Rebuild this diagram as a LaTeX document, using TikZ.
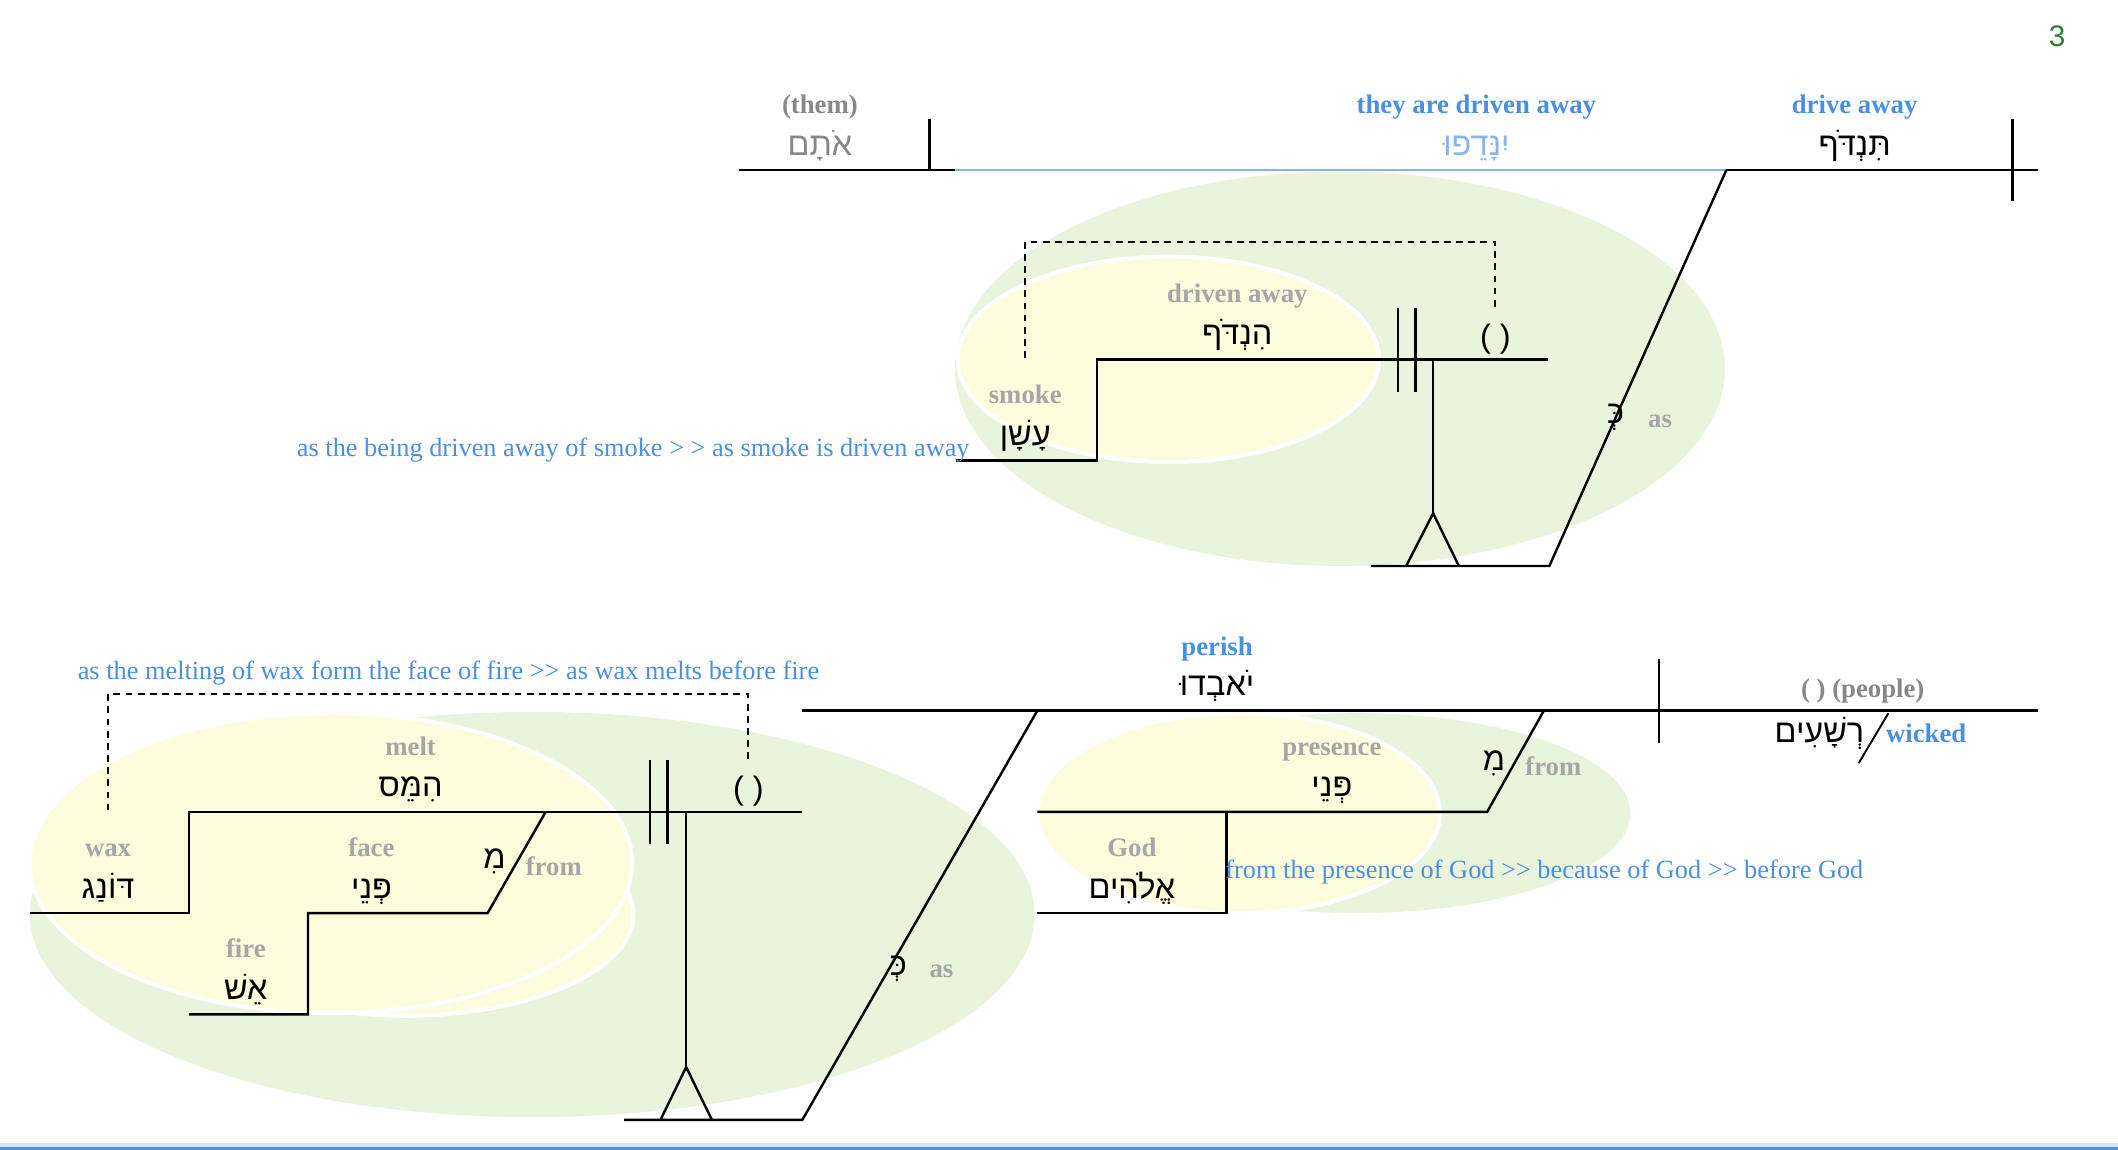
\documentclass[tikz,border=0pt]{standalone}
\usepackage{fontspec}
\setmainfont{Liberation Serif}
\newfontfamily\hebf[Script=Hebrew]{Liberation Sans}
\newfontfamily\sansf{Liberation Sans}
\TeXXeTstate=1
\definecolor{grnfill}{RGB}{233,244,220}
\definecolor{yelfill}{RGB}{253,253,222}
\definecolor{bluetx}{RGB}{74,144,226}
\definecolor{lightbl}{RGB}{138,180,240}
\definecolor{graylb}{RGB}{166,166,166}
\definecolor{darkgr}{RGB}{136,136,136}
\definecolor{pagenum}{RGB}{46,125,50}
\definecolor{bandbl}{RGB}{213,229,249}
\begin{document}
\begin{tikzpicture}[x=1pt,y=-1pt,
  lbl/.style={font=\fontsize{19.8}{23}\selectfont\bfseries, text=graylb, anchor=base, inner sep=0pt},
  blbl/.style={lbl, text=bluetx},
  hw/.style={font=\fontsize{24}{28}\selectfont\hebf, anchor=base, inner sep=0pt},
  cmt/.style={font=\fontsize{19.5}{23}\selectfont, text=bluetx, anchor=base, inner sep=0pt},
  ln/.style={line width=1.8pt, black},
  dsh/.style={line width=1.4pt, dash pattern=on 5pt off 4pt},
  grnell/.style={fill=grnfill},
  yelell/.style={fill=yelfill, draw=white, line width=3pt}]
\useasboundingbox (0,0) rectangle (1568,851);

% ---------- background ellipses ----------
\fill[grnell] (992,273) ellipse [x radius=285pt, y radius=146pt];
\path[yelell] (865,266) ellipse [x radius=156pt, y radius=76pt];

\fill[grnell] (394,677) ellipse [x radius=372pt, y radius=150pt];
\path[yelell] (300,677) ellipse [x radius=169pt, y radius=75pt];
\path[yelell] (245,639) ellipse [x radius=223pt, y radius=111pt];

\fill[grnell] (1004,602) ellipse [x radius=203pt, y radius=74pt];
\path[yelell] (917,602) ellipse [x radius=149pt, y radius=74pt];

% ---------- page number and bottom band ----------
\node[font=\fontsize{22}{25}\selectfont\sansf, text=pagenum, inner sep=0pt] (pg) at (1523,27) {3};
\fill[bandbl] (0,846) rectangle (1568,849);
\fill[bluetx] (0,849) rectangle (1568,851);

% ---------- top main clause ----------
\draw[ln] (547,126) -- (707,126);
\draw[line width=1.8pt, lightbl] (707,126) -- (1278,126);
\draw[ln] (1278,126) -- (1509,126);
\draw[ln] (688,88) -- (688,126);
\draw[ln] (1490,88) -- (1490,149);

\node[lbl, text=darkgr] (them) at (607,84) {(them)};
\node[hw, text=darkgr] (otam) at (607,115) {\beginR אֹתָם\endR};
\node[blbl] (driven) at (1093,84) {they are driven away};
\node[hw, text=lightbl] (yinnadfu) at (1093,115) {\beginR יִנָּדֵפוּ\endR};
\node[blbl] (drive) at (1373,84) {drive away};
\node[hw] (tindof) at (1373,115) {\beginR תִּנְדֹּף\endR};

% slanted 'as' connector
\draw[ln] (1278,126) -- (1147,419) -- (1015,419);
\node[hw, anchor=center] (ke1) at (1196,309) {\beginR כְּ\endR};
\node[lbl, anchor=center] (as1) at (1229,312) {as};

% smoke clause
\draw[ln] (708,341) -- (812,341) -- (812,266) -- (1146,266);
\node[lbl] (drivenaway) at (916,224) {driven away};
\node[hw] (hindof) at (916,255) {\beginR הִנְדֹּף\endR};
\node[lbl] (smoke) at (759,299) {smoke};
\node[hw] (ashan) at (759,330) {\beginR עָשָׁן\endR};
\draw[ln] (1035,228) -- (1035,290);
\draw[ln] (1048,228) -- (1048,290);
\draw[ln] (1061,266) -- (1061,380);
\draw[ln] (1041,419) -- (1061,380) -- (1080,419);
\node[font=\fontsize{24}{28}\selectfont\sansf, anchor=base, inner sep=0pt] (empty1) at (1107,257) {( )};
\draw[dsh] (759,265) -- (759,179) -- (1107,179) -- (1107,228);
\node[cmt, anchor=base east] (cmt1) at (718,338) {as the being driven away of smoke > > as smoke is driven away};

% ---------- bottom main clause ----------
\draw[ln] (594,526) -- (1509,526);
\draw[ln] (1228,488) -- (1228,550);
\node[blbl] (perish) at (901,485) {perish};
\node[hw] (yovdu) at (901,515) {\beginR יֹאבְדוּ\endR};
\node[lbl, text=darkgr] (people) at (1379,516) {( ) (people)};
\node[hw] (reshaim) at (1347,550) {\beginR רְשָׁעִים\endR};
\draw[ln, line width=1.4pt] (1398,528) -- (1376,565);
\node[blbl] (wicked) at (1426,550) {wicked};

\draw[ln] (768,526) -- (594,829) -- (462,829);
\node[hw, anchor=center] (ke2) at (665,717) {\beginR כְּ\endR};
\node[lbl, anchor=center] (as2) at (697,719) {as};

% wax clause
\draw[ln] (22,676) -- (140,676) -- (140,601) -- (594,601);
\draw[ln] (481,563) -- (481,625);
\draw[ln] (494,563) -- (494,625);
\draw[ln] (508,601) -- (508,790);
\draw[ln] (489,829) -- (508,790) -- (527,829);
\node[font=\fontsize{24}{28}\selectfont\sansf, anchor=base, inner sep=0pt] (empty2) at (554,592) {( )};
\draw[dsh] (80,600) -- (80,514) -- (554,514) -- (554,563);
\node[cmt] (cmt2) at (332,503) {as the melting of wax form the face of fire >{}> as wax melts before fire};
\node[lbl] (melt) at (304,559) {melt};
\node[hw] (himmes) at (304,590) {\beginR הִמֵּס\endR};
\node[lbl] (wax) at (80,634) {wax};
\node[hw] (donag) at (80,665) {\beginR דּוֹנַג\endR};
\draw[ln] (404,601) -- (361,676) -- (228,676) -- (228,751) -- (140,751);
\node[hw, anchor=center] (mi1) at (366,638) {\beginR מִ\endR};
\node[lbl, anchor=center] (from1) at (410,641) {from};
\node[lbl] (face) at (275,634) {face};
\node[hw] (pne1) at (275,665) {\beginR פְּנֵי\endR};
\node[lbl] (fire) at (182,709) {fire};
\node[hw] (esh) at (182,740) {\beginR אֵשׁ\endR};

% presence of God
\draw[ln] (1143,526) -- (1101,601) -- (768,601);
\draw[ln] (908,601) -- (908,676) -- (768,676);
\node[lbl] (presence) at (986,559) {presence};
\node[hw] (pne2) at (986,590) {\beginR פְּנֵי\endR};
\node[hw, anchor=center] (mi2) at (1106,565) {\beginR מִ\endR};
\node[lbl, anchor=center] (from2) at (1150,567) {from};
\node[lbl] (god) at (838,634) {God};
\node[hw] (elohim) at (838,665) {\beginR אֱלֹהִים\endR};
\node[cmt, anchor=base west] (cmt3) at (907,650) {from the presence of God >{}> because of God >{}> before God};
\end{tikzpicture}
\end{document}
